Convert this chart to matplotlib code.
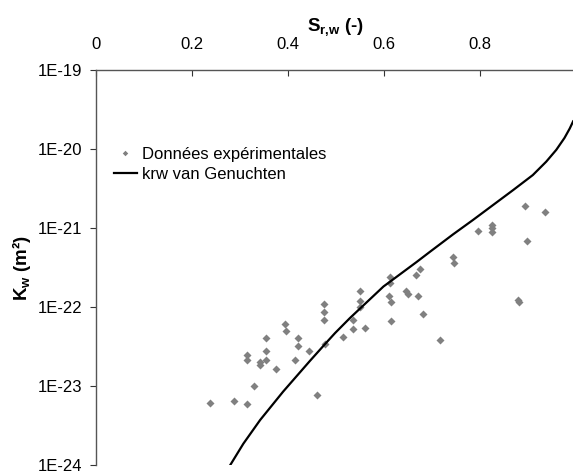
import matplotlib
matplotlib.use('Agg')
import matplotlib.pyplot as plt
import numpy as np

plt.rcParams['font.family'] = ['Liberation Sans', 'DejaVu Sans']
plt.rcParams['font.size'] = 12
plt.rcParams['mathtext.fontset'] = 'custom'
plt.rcParams['mathtext.rm'] = 'Liberation Sans:bold'
plt.rcParams['mathtext.it'] = 'Liberation Sans:bold'
plt.rcParams['mathtext.bf'] = 'Liberation Sans:bold'

# measured water saturation and permeability (log10 of K in m2)
sat_exp = [0.237, 0.288, 0.315, 0.330, 0.315, 0.315, 0.342, 0.342, 0.355, 0.354,
           0.355, 0.375, 0.394, 0.395, 0.415, 0.421, 0.421, 0.444, 0.460, 0.476,
           0.474, 0.476, 0.477, 0.515, 0.535, 0.536, 0.550, 0.550, 0.551, 0.560,
           0.612, 0.612, 0.610, 0.614, 0.615, 0.646, 0.650, 0.671, 0.667, 0.674,
           0.682, 0.717, 0.743, 0.746, 0.795, 0.826, 0.826, 0.826, 0.894, 0.935,
           0.898, 0.879, 0.881]
logk_exp = [-23.21, -23.19, -23.23, -23.00, -22.61, -22.67, -22.70, -22.74, -22.39, -22.56,
            -22.67, -22.79, -22.22, -22.31, -22.67, -22.39, -22.50, -22.56, -23.11, -21.96,
            -22.06, -22.16, -22.47, -22.38, -22.28, -22.16, -22.00, -21.92, -21.80, -22.27,
            -21.62, -21.70, -21.86, -21.94, -22.18, -21.80, -21.84, -21.86, -21.59, -21.52,
            -22.09, -22.42, -21.37, -21.44, -21.04, -20.96, -21.00, -21.05, -20.72, -20.80,
            -21.17, -21.91, -21.94]

# van Genuchten fit
sat_vg = [0.2757, 0.307, 0.342, 0.390, 0.446, 0.477, 0.498, 0.529, 0.599, 0.6125,
          0.668, 0.696, 0.744, 0.785, 0.827, 0.869, 0.910, 0.938, 0.959, 0.976,
          0.987, 0.994]
logk_vg = [-24.04, -23.73, -23.43, -23.07, -22.68, -22.47, -22.33, -22.14, -21.74, -21.68,
           -21.43, -21.30, -21.08, -20.90, -20.71, -20.52, -20.33, -20.16, -20.01, -19.86,
           -19.74, -19.65]

fig = plt.figure(figsize=(5.73, 4.73), dpi=100)
ax = fig.add_axes([96/573, 8/473, 480/573, 395/473])

ax.plot(sat_exp, 10**np.array(logk_exp), 'D', color='#808080', ms=4, mec='none',
        label='Données expérimentales')
ax.plot(sat_vg, 10**np.array(logk_vg), '-', color='black', lw=1.6,
        solid_joinstyle='round', label='krw van Genuchten')

ax.set_yscale('log')
ax.set_xlim(0, 1)
ax.set_ylim(1e-24, 1e-19)
ax.set_yticks([1e-24, 1e-23, 1e-22, 1e-21, 1e-20, 1e-19])
ax.set_yticklabels(['1E-24', '1E-23', '1E-22', '1E-21', '1E-20', '1E-19'])
ax.yaxis.set_minor_locator(matplotlib.ticker.NullLocator())
ax.set_xticks([0, 0.2, 0.4, 0.6, 0.8])
ax.set_xticklabels(['0', '0.2', '0.4', '0.6', '0.8'])

ax.xaxis.tick_top()
ax.xaxis.set_label_position('top')
ax.tick_params(axis='x', direction='in', length=4, width=0.8, pad=13, color='#333333')
ax.tick_params(axis='y', direction='out', length=4, width=0.8, pad=6, color='#333333')
for s in ['right', 'bottom']:
    ax.spines[s].set_visible(False)
for s in ['top', 'left']:
    ax.spines[s].set_color('#555555')
    ax.spines[s].set_linewidth(1.0)

ax.set_xlabel('S$_{r{,}w}$ (-)', fontsize=13.5, fontweight='bold', labelpad=4)
ax.set_ylabel('K$_{w}$ (m²)', fontsize=13.5, fontweight='bold', labelpad=3)

ax.legend(loc='center left', bbox_to_anchor=(0.0375, 0.761), frameon=False,
          borderpad=0, borderaxespad=0, handlelength=1.35, handletextpad=0.3,
          labelspacing=0.3, markerscale=0.7, numpoints=1, fontsize=12)

fig.savefig('out.png', dpi=100)
